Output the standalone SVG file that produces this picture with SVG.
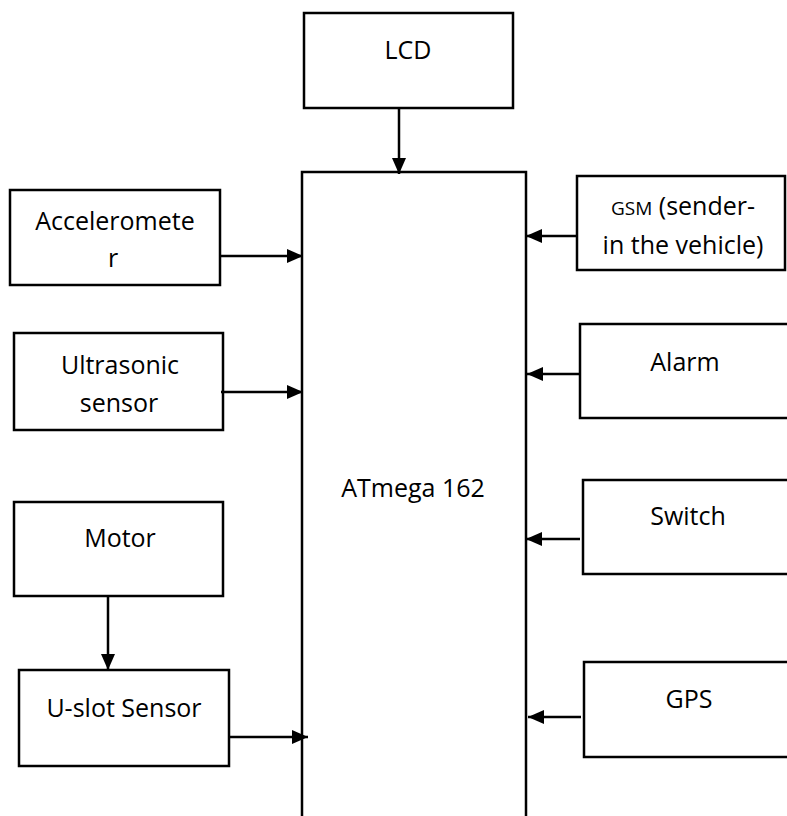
<svg xmlns="http://www.w3.org/2000/svg" width="787" height="816" viewBox="0 0 787 816">
<style>
.box{fill:#fff;stroke:#000;stroke-width:2.5}
.lbl{font-family:"Open Sans","Noto Sans",sans-serif;font-size:25px;fill:#000;text-anchor:middle}
.sm{font-size:19px}
.con{stroke:#000;stroke-width:2.5;fill:none;marker-end:url(#ah)}
</style>
<defs>
<marker id="ah" markerUnits="userSpaceOnUse" markerWidth="16" markerHeight="14" viewBox="0 0 16 14" refX="16" refY="7" orient="auto">
<path d="M0,0 L16,7 L0,14 Z" fill="#000"/>
</marker>
</defs>
<rect width="787" height="816" fill="#fff"/>
<g id="atmega"><rect class="box" x="302" y="172" width="224" height="660"/><text class="lbl" x="413" y="497">ATmega 162</text></g>
<g id="lcd"><rect class="box" x="304" y="13" width="209" height="95"/><text class="lbl" x="408" y="59">LCD</text></g>
<g id="accelerometer"><rect class="box" x="10" y="190" width="210" height="95"/><text class="lbl" x="115" y="230">Acceleromete</text><text class="lbl" x="113" y="267">r</text></g>
<g id="ultrasonic"><rect class="box" x="14" y="333" width="209" height="97"/><text class="lbl" x="120" y="374">Ultrasonic</text><text class="lbl" x="119" y="412">sensor</text></g>
<g id="motor"><rect class="box" x="14" y="502" width="209" height="94"/><text class="lbl" x="120" y="547">Motor</text></g>
<g id="uslot"><rect class="box" x="19" y="670" width="210" height="96"/><text class="lbl" x="124" y="717">U-slot Sensor</text></g>
<g id="gsm"><rect class="box" x="577" y="176" width="208" height="94"/><text class="lbl" x="683" y="215"><tspan class="sm">GSM</tspan> (sender-</text><text class="lbl" x="683" y="254">in the vehicle)</text></g>
<g id="alarm"><rect class="box" x="580" y="324" width="220" height="94"/><text class="lbl" x="685" y="371">Alarm</text></g>
<g id="switch"><rect class="box" x="583" y="480" width="220" height="94"/><text class="lbl" x="688" y="525">Switch</text></g>
<g id="gps"><rect class="box" x="584" y="662" width="220" height="95"/><text class="lbl" x="689" y="708">GPS</text></g>
<g id="connectors">
<line class="con" x1="399" y1="108" x2="399" y2="174"/>
<line class="con" x1="220" y1="256" x2="303" y2="256"/>
<line class="con" x1="221" y1="392" x2="303" y2="392"/>
<line class="con" x1="108" y1="596" x2="108" y2="670"/>
<line class="con" x1="228" y1="737" x2="308" y2="737"/>
<line class="con" x1="577" y1="236" x2="526" y2="236"/>
<line class="con" x1="580" y1="374" x2="527" y2="374"/>
<line class="con" x1="580" y1="539" x2="526" y2="539"/>
<line class="con" x1="581" y1="717" x2="528" y2="717"/>
</g>
</svg>
